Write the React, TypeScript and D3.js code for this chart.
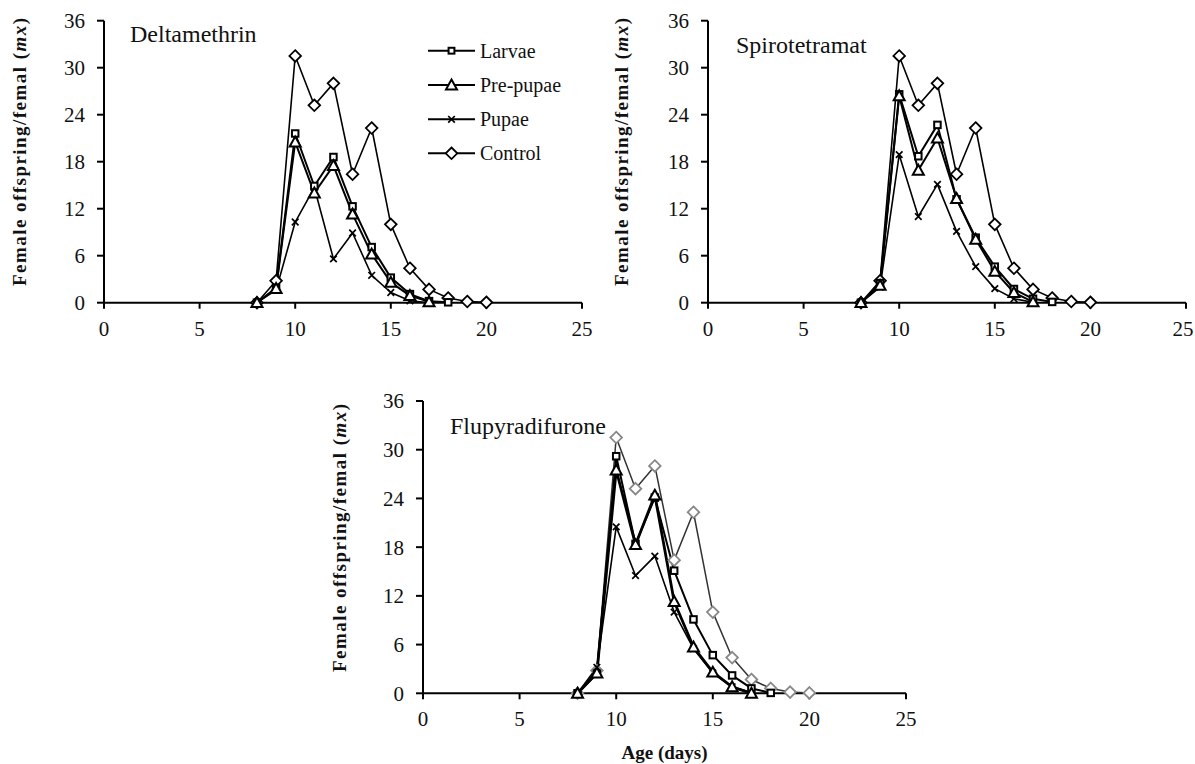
import React from "react";
import * as d3 from "d3";

// ---------- DATA ----------
const seriesNames = ["Larvae", "Pre-pupae", "Pupae", "Control"];
const panelTitles = ["Deltamethrin", "Spirotetramat", "Flupyradifurone"];
const xTicks = [0, 5, 10, 15, 20, 25];
const yTicks = [0, 6, 12, 18, 24, 30, 36];
const startDay = 8;

const controlVals = [0, 2.8, 31.5, 25.2, 28.0, 16.4, 22.3, 10.0, 4.4, 1.7, 0.6, 0.15, 0.05];

const deltaLarvae = [0, 1.9, 21.6, 14.9, 18.6, 12.3, 7.1, 3.2, 1.1, 0.2, 0.05];
const deltaPrepupae = [0, 1.8, 20.5, 14.0, 17.5, 11.3, 6.2, 2.6, 0.9, 0.1];
const deltaPupae = [0, 1.6, 10.3, 14.7, 5.6, 8.9, 3.5, 1.3, 0.25, 0.0];

const spiroLarvae = [0, 2.5, 26.6, 18.7, 22.7, 13.2, 8.3, 4.6, 1.75, 0.5, 0.1];
const spiroPrepupae = [0, 2.2, 26.4, 16.9, 21.0, 13.3, 8.1, 4.0, 1.3, 0.1];
const spiroPupae = [0, 2.0, 18.9, 11.0, 15.1, 9.1, 4.6, 1.8, 0.5, 0.05];

const flupyLarvae = [0, 2.4, 29.2, 18.4, 24.1, 15.1, 9.1, 4.7, 2.2, 0.6, 0.05];
const flupyPrepupae = [0, 2.5, 27.5, 18.3, 24.4, 11.3, 5.7, 2.6, 0.8, 0.0];
const flupyPupae = [0, 3.2, 20.5, 14.5, 16.9, 10.0, 5.5, 2.5, 0.8, 0.1];

const panelData = [
  [deltaLarvae, deltaPrepupae, deltaPupae, controlVals],
  [spiroLarvae, spiroPrepupae, spiroPupae, controlVals],
  [flupyLarvae, flupyPrepupae, flupyPupae, controlVals],
];

// ---------- LAYOUT ----------
const W = 1195;
const H = 764;
const FONT = "'Liberation Serif', 'Times New Roman', serif";
const layouts = [
  { x0: 104, x1: 582, yTop: 20.7, yBot: 302.7, titleX: 130, titleY: 42, labelX: 26, labelCY: 152 },
  { x0: 708, x1: 1186, yTop: 20.7, yBot: 302.7, titleX: 736, titleY: 53, labelX: 628, labelCY: 152 },
  { x0: 423, x1: 906, yTop: 401, yBot: 693.3, titleX: 450, titleY: 434, labelX: 346, labelCY: 538 },
];
const markerTypes = ["square", "triangle", "cross", "diamond"];

function Marker({ type, x, y, color, scale = 1 }: any) {
  if (type === "square") {
    const s = 6.5 * scale;
    return <rect x={x - s / 2} y={y - s / 2} width={s} height={s} fill="#fff" stroke={color} strokeWidth={2} />;
  }
  if (type === "triangle") {
    const w = 5.5 * scale, h = 5.5 * scale;
    return <path d={`M${x},${y - h}L${x + w},${y + h * 0.8}L${x - w},${y + h * 0.8}Z`} fill="#fff" stroke={color} strokeWidth={2} />;
  }
  if (type === "diamond") {
    const r = 5.8 * scale;
    return <path d={`M${x},${y - r}L${x + r},${y}L${x},${y + r}L${x - r},${y}Z`} fill="#fff" stroke={color} strokeWidth={1.8} />;
  }
  const r = 3.3 * scale;
  return <path d={`M${x - r},${y - r}L${x + r},${y + r}M${x - r},${y + r}L${x + r},${y - r}`} stroke={color} strokeWidth={1.7} fill="none" />;
}

function Panel({ idx }: { idx: number }) {
  const L = layouts[idx];
  const x = d3.scaleLinear().domain([0, 25]).range([L.x0, L.x1]);
  const y = d3.scaleLinear().domain([0, 36]).range([L.yBot, L.yTop]);
  const line = d3.line<number>().x((_, i) => x(startDay + i)).y((v) => y(v));
  const data = panelData[idx];
  const lineW = idx === 2 ? [2, 2.8, 1.6, 1.5] : [2, 2, 1.6, 1.6];
  const colors = idx === 2 ? ["#000", "#000", "#000", "#333"] : ["#000", "#000", "#000", "#000"];
  const markColors = idx === 2 ? ["#000", "#000", "#000", "#888"] : colors;
  const order = [3, 2, 0, 1];
  return (
    <g>
      <line x1={L.x0} x2={L.x0} y1={L.yTop} y2={L.yBot} stroke="#000" strokeWidth={2} />
      <line x1={L.x0} x2={L.x1} y1={L.yBot} y2={L.yBot} stroke="#000" strokeWidth={2} />
      {yTicks.map((t) => (
        <g key={"y" + t}>
          <line x1={L.x0 - 7} x2={L.x0} y1={y(t)} y2={y(t)} stroke="#000" strokeWidth={2} />
          <text x={L.x0 - 19} y={y(t)} dy="0.35em" textAnchor="end" fontSize={21} fontFamily={FONT} fill="#111">{t}</text>
        </g>
      ))}
      {xTicks.map((t) => (
        <g key={"x" + t}>
          <line x1={x(t)} x2={x(t)} y1={L.yBot} y2={L.yBot + 6} stroke="#000" strokeWidth={2} />
          <text x={Math.min(x(t), W - 12)} y={L.yBot + 33} textAnchor="middle" fontSize={21} fontFamily={FONT} fill="#111">{t}</text>
        </g>
      ))}
      <text transform={`translate(${L.labelX},${L.labelCY}) rotate(-90)`} textAnchor="middle" fontSize={19} fontWeight="bold" fontFamily={FONT} fill="#111" textLength={268} lengthAdjust="spacing">
        Female offspring/femal (<tspan fontStyle="italic">mx</tspan>)
      </text>
      <text x={L.titleX} y={L.titleY} fontSize={24} fontFamily={FONT} fill="#111">{panelTitles[idx]}</text>
      {order.map((s) => (
        <path key={"l" + s} d={line(data[s]) || ""} fill="none" stroke={colors[s]} strokeWidth={lineW[s]} strokeLinejoin="round" />
      ))}
      {order.map((s) =>
        data[s].map((v, i) => (
          <Marker key={`m${s}-${i}`} type={markerTypes[s]} x={x(startDay + i)} y={y(v)} color={markColors[s]} />
        ))
      )}
    </g>
  );
}

function Legend() {
  const rows = [50.7, 85, 119.3, 153.3];
  return (
    <g>
      {seriesNames.map((n, i) => (
        <g key={n}>
          <line x1={428} x2={475} y1={rows[i]} y2={rows[i]} stroke="#000" strokeWidth={2} />
          <Marker type={markerTypes[i]} x={451.5} y={rows[i]} color="#000" scale={i === 0 ? 0.9 : 1} />
          <text x={480} y={rows[i]} dy="0.35em" fontSize={20} fontFamily={FONT} fill="#111">{n}</text>
        </g>
      ))}
    </g>
  );
}

export default function App() {
  return (
    <svg width={W} height={H} viewBox={`0 0 ${W} ${H}`} style={{ position: "absolute", left: 0, top: 0, background: "#fff" }}>
      <rect width={W} height={H} fill="#fff" />
      {[0, 1, 2].map((i) => <Panel key={i} idx={i} />)}
      <Legend />
      <text x={664.5} y={759} textAnchor="middle" fontSize={19} fontWeight="bold" fontFamily={FONT} fill="#111">Age (days)</text>
    </svg>
  );
}
